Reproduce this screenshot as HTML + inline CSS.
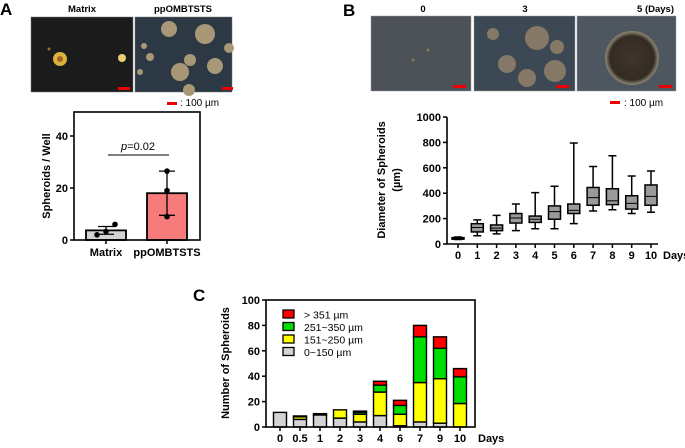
<!DOCTYPE html>
<html><head><meta charset="utf-8">
<style>
html,body{margin:0;padding:0;background:#fff;}
svg{display:block;font-family:"Liberation Sans",Arial,sans-serif;}
.b{font-weight:bold;}
</style></head>
<body>
<svg id="fig" width="685" height="448" viewBox="0 0 685 448" xmlns="http://www.w3.org/2000/svg">
<defs>
<radialGradient id="g5" cx="50%" cy="50%" r="50%"><stop offset="0" stop-color="#3e352b"/><stop offset="0.82" stop-color="#342c23"/><stop offset="0.92" stop-color="#6e6656"/><stop offset="1" stop-color="#8a8472"/></radialGradient>
</defs>
<text x="0" y="15" font-size="17" class="b">A</text>
<text x="343" y="16" font-size="17" class="b">B</text>
<text x="193" y="301" font-size="17" class="b">C</text>

<g>
<text x="82" y="12" font-size="9.5" class="b" text-anchor="middle">Matrix</text>
<text x="183" y="12" font-size="9.5" class="b" text-anchor="middle">ppOMBTSTS</text>
<rect x="31" y="17" width="102" height="75" fill="#1b1b1b" stroke="#777" stroke-width="0.5"/>
<circle cx="60" cy="59" r="7" fill="#d9b43a"/><circle cx="60" cy="59" r="3" fill="#a8602a"/>
<circle cx="122" cy="58" r="4" fill="#e8d070"/><circle cx="49" cy="49" r="1.5" fill="#a07030"/>
<rect x="118" y="87" width="12" height="3" fill="#e00"/>
<rect x="135" y="17" width="97" height="75" fill="#2c3843" stroke="#777" stroke-width="0.5"/>
<g fill="#a89878"><circle cx="169" cy="29" r="8"/><circle cx="205" cy="34" r="10"/><circle cx="215" cy="66" r="8"/><circle cx="180" cy="72" r="9"/><circle cx="190" cy="60" r="6"/><circle cx="144" cy="46" r="3"/><circle cx="150" cy="57" r="4"/><circle cx="229" cy="48" r="5"/><circle cx="189" cy="90" r="6"/><circle cx="140" cy="72" r="3"/></g>
<rect x="222" y="87" width="11" height="3" fill="#e00"/>
<rect x="167" y="102" width="10" height="3" fill="#e00"/>
<text x="180" y="106" font-size="10">: 100 µm</text>
</g>

<g>
<text x="423" y="12" font-size="9.5" class="b" text-anchor="middle">0</text>
<text x="525" y="12" font-size="9.5" class="b" text-anchor="middle">3</text>
<text x="674" y="12" font-size="9.5" class="b" text-anchor="end">5  (Days)</text>
<rect x="371" y="16" width="100" height="75" fill="#4c5257" stroke="#999" stroke-width="0.5"/>
<circle cx="428" cy="50" r="1.5" fill="#8a7a60"/><circle cx="413" cy="60" r="1.5" fill="#8a7a60"/>
<rect x="453" y="85" width="13" height="3" fill="#e00"/>
<rect x="474" y="16" width="101" height="75" fill="#3d4855" stroke="#999" stroke-width="0.5"/>
<g fill="#857866"><circle cx="493" cy="34" r="6"/><circle cx="537" cy="38" r="12"/><circle cx="557" cy="47" r="7"/><circle cx="507" cy="64" r="9"/><circle cx="527" cy="78" r="9"/><circle cx="555" cy="71" r="11"/></g>
<rect x="556" y="85" width="13" height="3" fill="#e00"/>
<rect x="577" y="16" width="99" height="75" fill="#4e5660" stroke="#999" stroke-width="0.5"/>
<circle cx="632" cy="58" r="27" fill="url(#g5)"/>
<rect x="659" y="85" width="13" height="3" fill="#e00"/>
<rect x="610" y="101" width="10" height="3" fill="#e00"/>
<text x="624" y="106" font-size="10">: 100 µm</text>
</g>

<g id="chartA"></g>
<g id="chartB"></g>
<g id="chartC"></g>
</svg>
<script>
// ---- Chart A data ----
var catsA = ["Matrix", "ppOMBTSTS"];
var meansA = [3.7, 18];
var sdA = [1.5, 8.5];
var pointsA = [[2, 3.3, 6], [26.5, 19, 9]];
var ticksA = [0, 20, 40];
var pLabelA = "=0.02";

// ---- Chart B data ----
var catsB = ["0","1","2","3","4","5","6","7","8","9","10"];
var minB = [35, 65, 80, 105, 120, 120, 160, 260, 270, 240, 250];
var q1B  = [38, 95, 105, 165, 170, 195, 240, 305, 310, 275, 305];
var medB = [45, 130, 125, 205, 195, 255, 265, 365, 340, 320, 375];
var q3B  = [50, 160, 150, 240, 220, 300, 315, 445, 435, 380, 465];
var maxB = [55, 190, 225, 315, 405, 455, 795, 610, 695, 535, 575];
var ticksB = [0, 200, 400, 600, 800, 1000];

// ---- Chart C data ----
var catsC = ["0","0.5","1","2","3","4","6","7","9","10"];
var grayC   = [11.5, 6, 9.5, 7, 4, 9, 1, 4, 3, 0];
var yellowC = [0, 2, 1, 6.5, 6, 18.5, 9, 31, 35, 18.5];
var greenC  = [0, 0.7, 0, 0, 1.5, 5.5, 7, 36, 24, 21];
var redC    = [0, 0, 0, 0, 1, 3, 4, 9, 9, 6.5];
var ticksC = [0, 20, 40, 60, 80, 100];
var legendC = ["> 351 µm", "251~350 µm", "151~250 µm", "0~150 µm"];
var legendColorsC = ["#ff0000", "#00dd00", "#ffff00", "#d3d3d3"];

var NS = "http://www.w3.org/2000/svg";
var FS = 11;
function mk(parent, tag, attrs, txt) {
  var e = document.createElementNS(NS, tag);
  for (var k in attrs) e.setAttribute(k, attrs[k]);
  if (txt !== undefined) e.textContent = txt;
  parent.appendChild(e);
  return e;
}

// ===== Chart A =====
(function () {
  var g = document.getElementById("chartA");
  var L = 74, R = 200, T = 112, B0 = 240;
  var y = function (v) { return B0 - v * 2.6; };
  var xc = function (i) { return 106 + i * 61; };
  var fills = ["#d3d3d3", "#f77b7b"];
  for (var i = 0; i < catsA.length; i++) {
    var bar = mk(g, "rect", {x: xc(i) - 20, y: y(meansA[i]), width: 40, height: B0 - y(meansA[i]), fill: fills[i], stroke: "#000", "stroke-width": 1.8});
    
    
    var eb = mk(g, "path", {d: "M" + xc(i) + "," + y(meansA[i] - sdA[i]) + "V" + y(meansA[i] + sdA[i]) + "M" + (xc(i) - 8) + "," + y(meansA[i] + sdA[i]) + "H" + (xc(i) + 8) + "M" + (xc(i) - 8) + "," + y(meansA[i] - sdA[i]) + "H" + (xc(i) + 8), stroke: "#000", "stroke-width": 1.3, fill: "none"});
    
    
    for (var j = 0; j < pointsA[i].length; j++) {
      var off = i === 0 ? (j - 1) * 9 : 0;
      var pt = mk(g, "circle", {cx: xc(i) + off, cy: y(pointsA[i][j]), r: 2.8, fill: "#000"});
      
      
    }
    var lab = mk(g, "text", {x: xc(i), y: 256, "font-size": FS, "font-weight": "bold", "text-anchor": "middle"}, catsA[i]);
    
    
  }
  var fr = mk(g, "rect", {x: L, y: T, width: R - L, height: B0 - T, fill: "none", stroke: "#000", "stroke-width": 1.6});
  
  
  for (var k = 0; k < ticksA.length; k++) {
    mk(g, "line", {x1: L - 4, x2: L, y1: y(ticksA[k]), y2: y(ticksA[k]), stroke: "#000", "stroke-width": 1.5});
    var t = mk(g, "text", {x: L - 6, y: y(ticksA[k]) + 4, "font-size": FS, "font-weight": "bold", "text-anchor": "end"}, ticksA[k]);
    
    
  }
  for (var i2 = 0; i2 < catsA.length; i2++) mk(g, "line", {x1: xc(i2), x2: xc(i2), y1: B0, y2: B0 + 4, stroke: "#000", "stroke-width": 1.5});
  var yt = mk(g, "text", {x: 0, y: 0, "font-size": FS, "font-weight": "bold", "text-anchor": "middle", transform: "translate(50,176) rotate(-90)"}, "Spheroids / Well");
  
  
  var pl = mk(g, "line", {x1: 108, x2: 169, y1: 155, y2: 155, stroke: "#000", "stroke-width": 1});
  
  
  var pt2 = mk(g, "text", {x: 138, y: 150, "font-size": FS, "text-anchor": "middle"});
  
  
  mk(pt2, "tspan", {"font-style": "italic"}, "p");
  mk(pt2, "tspan", {}, pLabelA);
})();

// ===== Chart B =====
(function () {
  var g = document.getElementById("chartB");
  var L = 447, R = 658, B0 = 244, T = 117;
  var y = function (v) { return B0 - v * (B0 - T) / 1000; };
  var xc = function (i) { return 458 + i * 19.3; };
  for (var i = 0; i < catsB.length; i++) {
    var x = xc(i), w = 12;
    var wh = mk(g, "path", {d: "M" + x + "," + y(minB[i]) + "V" + y(maxB[i]) + "M" + (x - 4) + "," + y(maxB[i]) + "H" + (x + 4) + "M" + (x - 4) + "," + y(minB[i]) + "H" + (x + 4), stroke: "#000", "stroke-width": 1.5, fill: "none"});
    
    
    var bx = mk(g, "rect", {x: x - w / 2, y: y(q3B[i]), width: w, height: y(q1B[i]) - y(q3B[i]), fill: "#9a9a9a", stroke: "#000", "stroke-width": 1.5});
    
    
    var md = mk(g, "line", {x1: x - w / 2, x2: x + w / 2, y1: y(medB[i]), y2: y(medB[i]), stroke: "#000", "stroke-width": 1});
    
    
    mk(g, "line", {x1: x, x2: x, y1: B0, y2: B0 + 4, stroke: "#000", "stroke-width": 1.5});
    var lb = mk(g, "text", {x: x, y: 259, "font-size": FS, "font-weight": "bold", "text-anchor": "middle"}, catsB[i]);
    
    
  }
  var ax = mk(g, "path", {d: "M" + L + "," + T + "V" + B0 + "H" + R, stroke: "#000", "stroke-width": 1.6, fill: "none"});
  
  
  for (var k = 0; k < ticksB.length; k++) {
    mk(g, "line", {x1: L - 4, x2: L, y1: y(ticksB[k]), y2: y(ticksB[k]), stroke: "#000", "stroke-width": 1.5});
    var t = mk(g, "text", {x: L - 6, y: y(ticksB[k]) + 4, "font-size": FS, "font-weight": "bold", "text-anchor": "end"}, ticksB[k]);
    
    
  }
  var dy = mk(g, "text", {x: 663, y: 259, "font-size": FS, "font-weight": "bold"}, "Days");
  
  
  var yt = mk(g, "text", {x: 0, y: 0, "font-size": FS, "font-weight": "bold", "text-anchor": "middle", transform: "translate(385,180) rotate(-90)"}, "Diameter of Spheroids");
  
  
  var yt2 = mk(g, "text", {x: 0, y: 0, "font-size": FS, "font-weight": "bold", "text-anchor": "middle", transform: "translate(400,180) rotate(-90)"}, "(µm)");
  
  
})();

// ===== Chart C =====
(function () {
  var g = document.getElementById("chartC");
  var L = 266, R = 475, B0 = 427, T = 300;
  var y = function (v) { return B0 - v * (B0 - T) / 100; };
  var xc = function (i) { return 280 + i * 20; };
  var series = [grayC, yellowC, greenC, redC];
  var cols = ["#d3d3d3", "#ffff00", "#00dd00", "#ff0000"];
  var names = ["0-150", "151-250", "251-350", "gt-351"];
  for (var i = 0; i < catsC.length; i++) {
    var base = 0;
    for (var s = 0; s < series.length; s++) {
      var v = series[s][i];
      if (v <= 0) continue;
      var r = mk(g, "rect", {x: xc(i) - 6.5, y: y(base + v), width: 13, height: y(base) - y(base + v), fill: cols[s], stroke: "#000", "stroke-width": 1.4});
      
      
      base += v;
    }
    mk(g, "line", {x1: xc(i), x2: xc(i), y1: B0, y2: B0 + 4, stroke: "#000", "stroke-width": 1.5});
    var lb = mk(g, "text", {x: xc(i), y: 442, "font-size": FS, "font-weight": "bold", "text-anchor": "middle"}, catsC[i]);
    
    
  }
  var fr = mk(g, "rect", {x: L, y: T, width: R - L, height: B0 - T, fill: "none", stroke: "#000", "stroke-width": 1.6});
  
  
  for (var k = 0; k < ticksC.length; k++) {
    mk(g, "line", {x1: L - 4, x2: L, y1: y(ticksC[k]), y2: y(ticksC[k]), stroke: "#000", "stroke-width": 1.5});
    var t = mk(g, "text", {x: L - 6, y: y(ticksC[k]) + 4, "font-size": FS, "font-weight": "bold", "text-anchor": "end"}, ticksC[k]);
    
    
  }
  for (var m = 0; m < legendC.length; m++) {
    var ly = 310 + m * 12.5;
    var sw = mk(g, "rect", {x: 283, y: ly, width: 11, height: 8, fill: legendColorsC[m], stroke: "#000", "stroke-width": 1.3});
    
    
    var lt = mk(g, "text", {x: 304, y: ly + 8.5, "font-size": 10.5}, legendC[m]);
    
    
  }
  var dy = mk(g, "text", {x: 478, y: 442, "font-size": FS, "font-weight": "bold"}, "Days");
  
  
  var yt = mk(g, "text", {x: 0, y: 0, "font-size": FS, "font-weight": "bold", "text-anchor": "middle", transform: "translate(229,363) rotate(-90)"}, "Number of Spheroids");
  
  
})();
</script>
</body></html>
